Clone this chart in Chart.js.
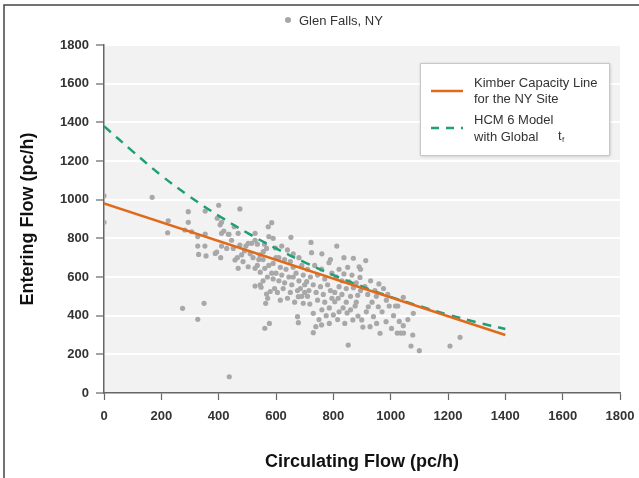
<!DOCTYPE html>
<html>
<head>
<meta charset="utf-8">
<script src="https://cdn.jsdelivr.net/npm/chart.js@4.4.0/dist/chart.umd.min.js"></script>
<style>
  html, body { margin: 0; padding: 0; background: #fff; }
  #wrap { position: relative; width: 639px; height: 478px; }
</style>
</head>
<body>
<div id="wrap"><canvas id="myChart" width="639" height="478"></canvas></div>
<script>
// axis ticks
var xTicks = [0, 200, 400, 600, 800, 1000, 1200, 1400, 1600, 1800];
var yTicks = [0, 200, 400, 600, 800, 1000, 1200, 1400, 1600, 1800];

// Kimber capacity line (circulating, entering)
var kimberX = [0, 1400];
var kimberY = [980, 300];

// HCM 6 model with global tf
var hcmX = [0, 100, 200, 300, 400, 500, 600, 700, 800, 900, 1000, 1100, 1200, 1300, 1400];
var hcmY = [1380, 1250, 1125, 1015, 917, 828, 748, 676, 610, 551, 497, 450, 405, 366, 331];

// Glen Falls, NY observations [circulating, entering]
var glenFalls = [
  [0,1020],[0,883],[168,1012],[224,891],[222,829],[282,843],[294,938],[294,883],[306,834],[327,809],
  [327,760],[330,717],[353,941],[353,822],[352,760],[356,709],[274,438],[349,464],[327,381],
  [400,971],[395,904],[410,883],[405,870],[410,826],[418,838],[434,821],[410,760],[428,748],[393,729],
  [388,722],[407,700],[437,84],[436,821],
  [474,952],[468,826],[454,860],[451,748],[474,765],[457,688],[465,700],[480,714],[468,645],[445,790],
  [490,735],[485,680],[495,760],
  [503,774],[515,774],[527,826],[527,790],[503,653],[527,645],[535,660],[544,714],[556,731],[567,748],
  [573,860],[585,881],[575,809],[520,700],[540,690],[561,645],[575,660],[590,670],[600,700],[585,620],
  [570,600],[555,580],[590,590],[545,560],[527,553],[548,547],[567,512],[571,490],[564,464],[561,335],
  [577,360],[595,540],[580,525],[600,620],[510,720],[535,770],[560,770],[598,750],[590,800],[555,690],
  [545,625],
  [652,805],[620,760],[640,740],[660,720],[610,700],[630,690],[650,680],[680,700],[615,650],[635,640],
  [660,650],[690,660],[620,610],[645,600],[670,620],[695,610],[610,580],[630,570],[655,560],[680,580],
  [700,560],[625,540],[650,520],[675,530],[690,500],[640,490],[665,470],[678,498],[695,464],[675,395],
  [678,364],[605,520],[615,480],[700,520],[685,540],[660,600],
  [722,779],[724,726],[760,720],[785,674],[790,690],[759,641],[735,660],[710,640],[707,576],[720,600],
  [745,610],[770,590],[795,620],[730,560],[755,550],[780,560],[715,530],[740,520],[765,510],[790,530],
  [718,460],[745,480],[770,470],[795,490],[730,412],[760,430],[786,440],[800,404],[786,360],[759,352],
  [739,343],[730,312],[750,380],[710,500],[775,400],
  [812,760],[837,700],[870,697],[890,653],[895,640],[850,650],[820,640],[837,616],[865,610],[893,598],
  [810,600],[830,580],[855,575],[880,570],[820,550],[845,540],[870,545],[895,530],[805,520],[830,510],
  [860,500],[885,505],[817,490],[805,472],[845,470],[876,450],[834,440],[848,414],[886,398],[868,378],
  [899,378],[852,248],[903,341],[820,420],[860,430],[880,470],[815,380],[840,360],
  [913,685],[959,564],[930,580],[910,550],[945,530],[975,540],[920,510],[950,500],[990,510],[922,446],
  [957,446],[935,470],[940,395],[951,360],[928,343],[963,309],[984,369],[1003,334],[970,420],[995,450],
  [915,420],[985,480],
  [1044,495],[1017,450],[1025,450],[1079,412],[1044,348],[1023,310],[1035,310],[1045,310],[1077,300],
  [1071,243],[1100,219],[1010,400],[1060,380],[1030,370],
  [1242,288],[1207,243]
];

function pairs(xs, ys) {
  return xs.map(function (x, i) { return { x: x, y: ys[i] }; });
}

var FONT = "'Liberation Sans', Arial, sans-serif";

// frame, plot background, top legend and inner legend box
var decorations = {
  id: 'decorations',
  beforeDraw: function (chart) {
    var c = chart.ctx, a = chart.chartArea;
    c.save();
    c.fillStyle = '#f2f2f2';
    c.fillRect(a.left, a.top, a.right - a.left, a.bottom - a.top);
    c.strokeStyle = '#444';
    c.lineWidth = 1.5;
    c.beginPath();
    c.moveTo(4, 478); c.lineTo(4, 5); c.lineTo(639, 5);
    c.stroke();
    // top legend
    c.fillStyle = '#a6a6a6';
    c.beginPath(); c.arc(288, 20, 3, 0, Math.PI * 2); c.fill();
    c.fillStyle = '#333';
    c.font = '13px ' + FONT;
    c.textBaseline = 'middle';
    c.fillText('Glen Falls, NY', 299, 21);
    c.restore();
  },
  afterDraw: function (chart) {
    var c = chart.ctx;
    c.save();
    c.shadowColor = 'rgba(0,0,0,0.25)';
    c.shadowBlur = 3;
    c.shadowOffsetX = 1;
    c.shadowOffsetY = 1;
    c.fillStyle = '#fff';
    c.fillRect(420, 63, 189, 92);
    c.restore();
    c.save();
    c.strokeStyle = '#c8c8c8';
    c.lineWidth = 1;
    c.strokeRect(420.5, 63.5, 189, 92);
    c.lineWidth = 2.5;
    c.strokeStyle = '#e06a1b';
    c.beginPath(); c.moveTo(431, 91); c.lineTo(463, 91); c.stroke();
    c.strokeStyle = '#1f9e77';
    c.setLineDash([8, 7]);
    c.beginPath(); c.moveTo(431, 128); c.lineTo(463, 128); c.stroke();
    c.setLineDash([]);
    c.fillStyle = '#333';
    c.font = '13px ' + FONT;
    c.textBaseline = 'middle';
    c.fillText('Kimber Capacity Line', 474, 83);
    c.fillText('for the NY Site', 474, 99);
    c.fillText('HCM 6 Model', 474, 120);
    c.fillText('with Global', 474, 137);
    c.fillText('t', 558, 136);
    c.font = '8px ' + FONT;
    c.fillText('f', 562, 140);
    c.restore();
  }
};

function plain(v) { return String(v); }

var ctx = document.getElementById('myChart');
var chartInstance = new Chart(ctx, {
  type: 'scatter',
  data: {
    datasets: [{
      label: 'Kimber Capacity Line for the NY Site',
      data: pairs(kimberX, kimberY),
      showLine: true,
      borderColor: '#e06a1b',
      borderWidth: 2.5,
      pointRadius: 0,
      order: 1
    }, {
      label: 'HCM 6 Model with Global tf',
      data: pairs(hcmX, hcmY),
      showLine: true,
      borderColor: '#1f9e77',
      borderWidth: 2.5,
      borderDash: [9, 7],
      tension: 0.4,
      pointRadius: 0,
      order: 2
    }, {
      label: 'Glen Falls, NY',
      data: glenFalls.map(function (p) { return { x: p[0], y: p[1] }; }),
      backgroundColor: '#a8a8a8',
      borderWidth: 0,
      pointRadius: 2.6,
      order: 3
    }]
  },
  options: {
    responsive: false,
    animation: false,
    layout: { padding: { left: 0, right: 19, top: 45, bottom: 0 } },
    plugins: {
      legend: { display: false },
      tooltip: { enabled: false }
    },
    scales: {
      x: {
        type: 'linear',
        min: 0,
        max: 1800,
        afterBuildTicks: function (s) { s.ticks = xTicks.map(function (v) { return { value: v }; }); },
        afterFit: function (s) { s.height = 85; s.paddingRight = 0; s.paddingLeft = 0; },
        border: { color: '#666', width: 1.5 },
        grid: { drawOnChartArea: false, tickColor: '#666', tickLength: 7, tickWidth: 1.2 },
        ticks: { color: '#333', padding: 9, callback: plain, font: { family: FONT, size: 13, weight: 'bold' } },
        title: {
          display: true,
          text: 'Circulating Flow (pc/h)',
          color: '#111',
          padding: { top: 0, bottom: 5 },
          font: { family: FONT, size: 18, weight: 'bold' }
        }
      },
      y: {
        type: 'linear',
        min: 0,
        max: 1800,
        afterBuildTicks: function (s) { s.ticks = yTicks.map(function (v) { return { value: v }; }); },
        afterFit: function (s) { s.width = 104; },
        border: { color: '#666', width: 1.5 },
        grid: {
          color: function (c) { return c.tick && c.tick.value === 0 ? 'rgba(0,0,0,0)' : '#ffffff'; },
          lineWidth: 2,
          tickColor: '#666',
          tickLength: 8,
          tickWidth: 1.2
        },
        ticks: { color: '#333', padding: 7, callback: plain, font: { family: FONT, size: 13, weight: 'bold' } },
        title: {
          display: true,
          text: 'Entering Flow (pc/h)',
          color: '#111',
          padding: { top: 17, bottom: 0 },
          font: { family: FONT, size: 18, weight: 'bold' }
        }
      }
    }
  },
  plugins: [decorations]
});
</script>
</body>
</html>
